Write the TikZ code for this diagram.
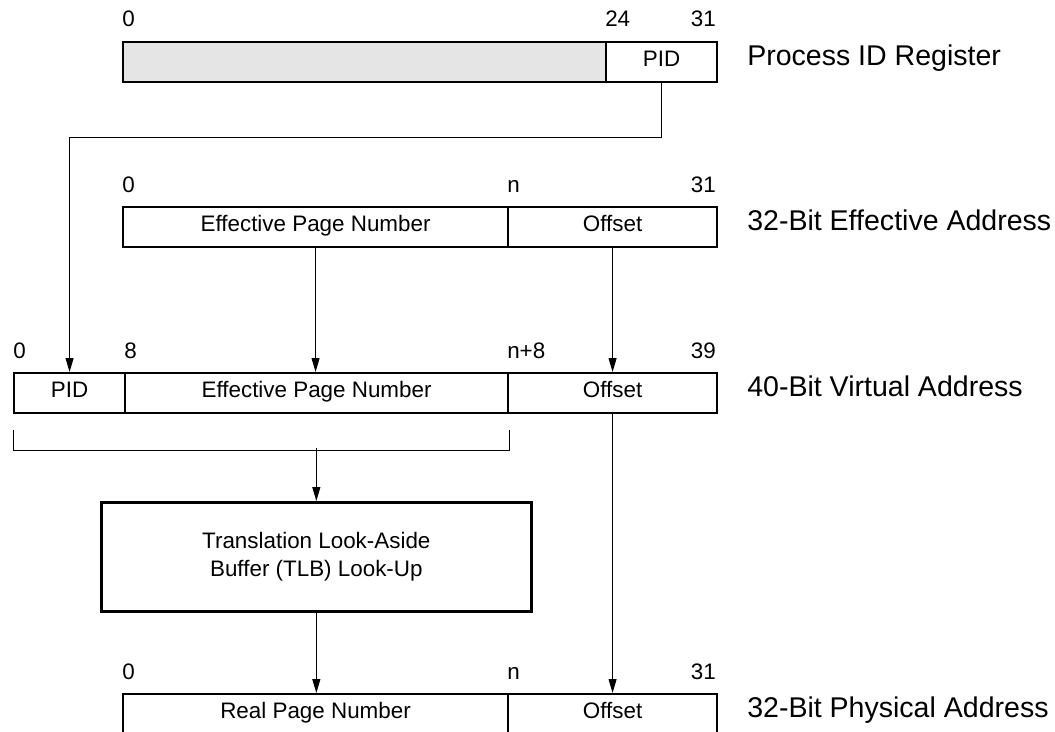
\documentclass[tikz,border=0pt]{standalone}
\usepackage{fontspec}
\setmainfont{Liberation Sans}
\usetikzlibrary{arrows.meta,calc}
\tikzset{
	field/.style={draw, line width=1.6pt, minimum height=30pt, inner sep=0pt, anchor=north west, text height=0.716em, text depth=0pt, font=\fontsize{16.8}{19}\selectfont},
	bitno/.style={inner sep=0pt, font=\fontsize{16.8}{19}\selectfont},
	regname/.style={anchor=west, inner sep=0pt, text height=0.716em, text depth=0pt, font=\fontsize{21.4}{25}\selectfont},
	conn/.style={line width=0.75pt},
	arr/.style={conn, -{Triangle[length=10.5pt,width=6pt]}}
}
\newcommand{\bitfield}[6][]{\node[field, #1, minimum width={(#4-#3)*0.75pt}] (#2) at (#3,#5) {#6};}

\begin{document}
\begin{tikzpicture}[x=0.75pt, y=-0.75pt]
			%%%%% START %%%%%
			\useasboundingbox (0,0) rectangle (1055,731);
			
			% process ID register
			\bitfield[fill=black!10]{prfree}{122}{605}{41}{}
			\bitfield{prpid}{605}{716}{41}{PID}
			\node[bitno, anchor=base west] (pr0) at (122,27) {0};
			\node[bitno, anchor=base west] (pr24) at (605,27) {24};
			\node[bitno, anchor=base east] (pr31) at (716,27) {31};
			\node[regname] (prname) at (747,61) {Process ID Register};
			
			% 32-bit effective address
			\bitfield{eaepn}{122}{507}{206}{Effective Page Number}
			\bitfield{eaoff}{507}{716}{206}{Offset}
			\node[bitno, anchor=base west] (ea0) at (122,192) {0};
			\node[bitno, anchor=base west] (ean) at (507,192) {n};
			\node[bitno, anchor=base east] (ea31) at (716,192) {31};
			\node[regname] (eaname) at (747,226) {32-Bit Effective Address};
			
			% 40-bit virtual address
			\bitfield{vapid}{13}{124}{372}{PID}
			\bitfield{vaepn}{124}{507}{372}{Effective Page Number}
			\bitfield{vaoff}{507}{716}{372}{Offset}
			\node[bitno, anchor=base west] (va0) at (13,358) {0};
			\node[bitno, anchor=base west] (va8) at (124,358) {8};
			\node[bitno, anchor=base west] (van) at (507,358) {n+8};
			\node[bitno, anchor=base east] (va39) at (716,358) {39};
			\node[regname] (vaname) at (747,392) {40-Bit Virtual Address};
			
			% TLB
			\node[draw, line width=2pt, anchor=north west, minimum width=322.5pt, minimum height=81.75pt, align=center, font=\fontsize{16.8}{20.5}\selectfont] (tlb) at (100,501) {Translation Look-Aside\\Buffer (TLB) Look-Up};
			
			% 32-bit physical address
			\bitfield{parpn}{122}{507}{693}{Real Page Number}
			\bitfield{paoff}{507}{716}{693}{Offset}
			\node[bitno, anchor=base west] (pa0) at (122,679) {0};
			\node[bitno, anchor=base west] (pan) at (507,679) {n};
			\node[bitno, anchor=base east] (pa31) at (716,679) {31};
			\node[regname] (paname) at (747,713) {32-Bit Physical Address};
			
			% connectors
			\draw[arr] (prpid.south) -- ++(0,54) -| (vapid.north);
			\draw[arr] (eaepn.south) -- (eaepn.south |- vaepn.north);
			\draw[arr] (eaoff.south) -- (vaoff.north);
			\coordinate (brkl) at ($(vapid.south west)+(0,16)$);
			\coordinate (brkr) at ($(vaepn.south east)+(0,16)$);
			\coordinate (brk) at ($(tlb.north)+(0,-53)$);
			\draw[conn] (brkl) -- ++(0,20) -| (brkr);
			\draw[arr] (brk) -- (tlb.north);
			\draw[arr] (tlb.south) -- (tlb.south |- parpn.north);
			\draw[arr] (vaoff.south) -- (paoff.north);
			
			%%%%% END %%%%%
\end{tikzpicture}
\end{document}
